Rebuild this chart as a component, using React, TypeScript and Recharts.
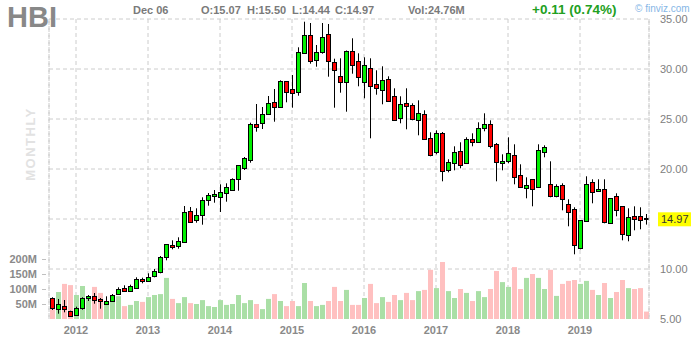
import React from "react";
import { ComposedChart, Bar, XAxis, YAxis, Cell, ReferenceLine, CartesianGrid } from "recharts";

// ---- data (monthly candles, Sep 2011 .. Dec 2019) ----
const startYear = 2011;
const startMonth = 9;

const opens = [
  7.07, 5.97, 6.27, 5.77, 5.43, 6.07, 7.07, 7.27, 7.0, 6.53,
  6.77, 7.47, 8.07, 7.8, 8.13, 9.0, 8.83, 9.27, 9.67, 11.17,
  12.37, 12.27, 12.67, 15.85, 14.87, 15.37, 16.87, 17.27, 17.23, 17.57,
  17.87, 18.97, 20.13, 20.93, 24.47, 24.57, 25.47, 26.67, 26.17, 28.77,
  27.97, 27.67, 31.63, 33.37, 30.87, 31.67, 33.47, 30.67, 29.27, 28.67,
  31.77, 30.77, 28.67, 30.07, 28.47, 27.87, 28.97, 27.27, 25.07, 26.57,
  26.37, 24.87, 25.47, 23.07, 21.67, 23.57, 19.87, 20.57, 21.77, 20.57,
  22.97, 22.67, 24.07, 24.47, 22.47, 20.57, 20.77, 21.37, 19.37, 18.07,
  18.97, 18.17, 21.67, 18.47, 17.27, 18.37, 16.47, 15.97, 12.07, 14.77,
  18.67, 17.77, 17.97, 14.57, 17.27, 16.27, 13.37, 15.27, 15.27, 15.07,
];
const highs = [
  7.17, 7.0, 6.9, 5.83, 6.23, 7.17, 7.4, 7.6, 7.1, 7.27,
  7.5, 8.17, 8.37, 8.43, 9.17, 9.13, 9.57, 10.0, 11.3, 12.5,
  12.87, 13.17, 16.3, 16.2, 16.07, 17.17, 17.6, 17.9, 18.47, 18.57,
  19.07, 20.4, 21.2, 24.63, 26.5, 26.2, 27.3, 28.0, 28.87, 28.8,
  29.4, 32.17, 34.73, 34.6, 32.4, 34.6, 34.5, 31.03, 31.07, 31.85,
  33.07, 31.57, 31.17, 31.07, 29.87, 30.27, 29.27, 28.07, 27.27, 28.07,
  26.57, 26.87, 25.87, 23.67, 23.87, 23.7, 20.97, 22.27, 22.67, 23.17,
  23.57, 24.67, 25.57, 24.87, 22.6, 21.47, 23.17, 22.47, 20.47, 19.17,
  19.0, 22.47, 22.37, 20.77, 18.47, 18.57, 16.97, 16.17, 14.9, 19.27,
  18.97, 18.97, 18.97, 17.1, 17.57, 16.3, 16.07, 16.27, 16.17, 15.5,
];
const lows = [
  5.9, 5.53, 5.67, 5.23, 5.33, 5.93, 6.8, 6.53, 6.03, 6.4,
  6.7, 7.4, 7.75, 7.7, 8.03, 8.57, 8.73, 9.17, 9.57, 10.87,
  11.97, 12.03, 12.6, 14.6, 14.63, 14.43, 16.33, 16.63, 15.7, 16.73,
  17.8, 17.83, 19.9, 20.63, 23.73, 24.0, 25.4, 24.73, 26.1, 26.67,
  26.13, 27.33, 31.5, 30.53, 30.23, 31.53, 29.23, 26.13, 27.63, 25.73,
  29.53, 28.27, 27.07, 23.07, 27.43, 26.47, 26.7, 24.8, 24.57, 23.97,
  24.87, 23.37, 22.9, 21.27, 21.47, 18.77, 19.67, 19.87, 20.07, 20.5,
  22.27, 22.6, 23.77, 22.07, 18.77, 19.87, 20.57, 18.47, 18.1, 17.07,
  16.27, 18.1, 21.17, 17.17, 17.17, 15.87, 14.27, 11.47, 11.97, 14.7,
  16.57, 17.7, 14.57, 14.5, 15.27, 12.87, 12.77, 13.87, 13.97, 14.44,
];
const closes = [
  6.07, 6.47, 5.97, 5.27, 6.1, 7.1, 7.3, 6.87, 6.8, 6.83,
  7.37, 7.97, 7.77, 8.3, 8.97, 8.77, 9.23, 9.77, 11.25, 12.47,
  12.25, 12.8, 15.75, 14.67, 15.43, 16.87, 17.37, 17.47, 17.67, 18.17,
  18.97, 20.37, 21.07, 24.5, 24.17, 25.53, 26.63, 26.17, 28.77, 27.67,
  27.57, 31.67, 33.37, 30.77, 31.67, 33.17, 30.77, 29.87, 28.67, 31.77,
  30.37, 29.17, 30.37, 28.27, 28.07, 28.87, 26.77, 24.87, 26.47, 26.27,
  24.97, 25.57, 22.97, 21.37, 23.57, 19.77, 20.67, 21.67, 20.37, 22.97,
  22.67, 24.07, 24.47, 22.27, 20.67, 20.77, 21.57, 19.17, 18.17, 18.37,
  17.97, 21.87, 22.17, 17.27, 18.27, 16.97, 15.67, 12.37, 14.87, 18.47,
  17.67, 17.97, 14.67, 17.07, 15.87, 13.47, 15.17, 14.97, 14.87, 14.97,
];
// volume in millions of shares
const volumes = [
  65, 90, 117, 113, 80, 110, 76, 107, 87, 60,
  75, 76, 43, 47, 60, 57, 73, 80, 83, 137,
  67, 53, 73, 53, 50, 63, 43, 40, 63, 47,
  50, 80, 53, 63, 50, 33, 67, 83, 60, 43,
  60, 43, 120, 60, 43, 47, 60, 107, 60, 97,
  47, 47, 70, 117, 53, 73, 57, 80, 63, 87,
  63, 93, 97, 164, 103, 190, 93, 70, 100, 87,
  60, 93, 73, 100, 160, 123, 107, 173, 100, 137,
  150, 137, 100, 164, 77, 117, 127, 130, 117, 127,
  97, 80, 120, 70, 90, 130, 103, 100, 103, 24.76,
];

const yearLabels = ["2012", "2013", "2014", "2015", "2016", "2017", "2018", "2019"];
const priceTicks = [5, 10, 15, 20, 25, 30, 35];
const priceGrid = [10, 15, 20, 25, 30, 35];
const volumeTicks = [50, 100, 150, 200];

const ticker = "HBI";
const quoteDate = "Dec 06";
const quoteOpen = "15.07";
const quoteHigh = "15.50";
const quoteLow = "14.44";
const quoteClose = "14.97";
const quoteVol = "24.76M";
const quoteChange = "+0.11 (0.74%)";

// ---- build table ----
const monthKey = (i: number) => {
  const t = startMonth - 1 + i;
  const y = startYear + Math.floor(t / 12);
  const m = (t % 12) + 1;
  return `${y}-${m < 10 ? "0" + m : m}`;
};
const data = opens.map((o, i) => ({
  m: monthKey(i),
  o,
  h: highs[i],
  l: lows[i],
  c: closes[i],
  range: [lows[i], highs[i]],
  vol: volumes[i],
  up: closes[i] >= o,
}));
const yearTicks = yearLabels.map((y) => `${y}-01`);
const lastClose = closes[closes.length - 1];

const FONT = "'Liberation Sans', Arial, Helvetica, sans-serif";
const UP = "#00f000";
const DOWN = "#ff0000";
const VOL_UP = "#aadfa6";
const VOL_DOWN = "#ffc0c0";
const GRID = "#cccccc";

const Candle = (props: any) => {
  const { x, y, width, height, payload } = props;
  if (payload == null || height == null) return null;
  const { o, h, l, c, up } = payload;
  const ppu = h - l > 0 ? height / (h - l) : 0;
  const top = y + (h - Math.max(o, c)) * ppu;
  let bot = y + (h - Math.min(o, c)) * ppu;
  if (bot - top < 1) bot = top + 1;
  const cx = Math.floor(x + width / 2) + 0.5;
  return (
    <g>
      <line x1={cx} x2={cx} y1={y} y2={y + height} stroke="#000" strokeWidth={1} />
      <rect
        x={cx - 2}
        y={Math.round(top) + 0.5}
        width={4}
        height={Math.max(1, Math.round(bot) - Math.round(top))}
        fill={up ? UP : DOWN}
        stroke="#000"
        strokeWidth={1}
      />
    </g>
  );
};

const PriceTick = (props: any) => {
  const { x, y, payload } = props;
  if (Math.abs(payload.value - lastClose) < 0.5) return null;
  return (
    <text x={x + 11} y={y + 4} fontSize={11} fontFamily={FONT} fill="#808080">
      {Number(payload.value).toFixed(2)}
    </text>
  );
};

const VolTick = (props: any) => {
  const { x, y, payload } = props;
  return (
    <g>
      <text x={x - 12} y={y + 4} textAnchor="end" fontSize={11} fontWeight="bold" fontFamily={FONT} fill="#8a8a8a">
        {payload.value}M
      </text>
      <line x1={x - 7} x2={x - 3} y1={y + 0.5} y2={y + 0.5} stroke="#c0c0c0" />
    </g>
  );
};

const YearTick = (props: any) => {
  const { x, y, payload } = props;
  return (
    <text x={x} y={y + 15} textAnchor="middle" fontSize={11} fontWeight="bold" fontFamily={FONT} fill="#8a8a8a">
      {String(payload.value).slice(0, 4)}
    </text>
  );
};

const LastLabel = (props: any) => {
  const vb = props.viewBox || {};
  const right = (vb.x || 0) + (vb.width || 0);
  const yy = vb.y || 0;
  return (
    <g>
      <rect x={right + 9} y={yy - 7} width={33} height={14} fill="#ffff00" />
      <text x={right + 12} y={yy + 4} fontSize={11} fontFamily={FONT} fill="#333">
        {lastClose.toFixed(2)}
      </text>
    </g>
  );
};

export default function App() {
  return (
    <div style={{ position: "absolute", left: 0, top: 0, width: 700, height: 340, background: "#fff" }}>
      <ComposedChart
        width={700}
        height={340}
        data={data}
        margin={{ top: 19, right: 0, bottom: 0, left: 0 }}
        barGap={0}
        barCategoryGap={0}
      >
        <CartesianGrid
          xAxisId="p"
          yAxisId="price"
          stroke={GRID}
          strokeDasharray="4 3"
          horizontalValues={priceGrid}
        />
        <XAxis
          xAxisId="p"
          dataKey="m"
          ticks={yearTicks}
          interval={0}
          height={21}
          axisLine={false}
          tickLine={false}
          tickSize={0}
          tickMargin={0}
          tick={<YearTick />}
        />
        <XAxis xAxisId="v" dataKey="m" hide />
        <YAxis
          yAxisId="vol"
          orientation="left"
          width={49}
          domain={[0, 1000]}
          ticks={volumeTicks}
          interval={0}
          allowDataOverflow
          axisLine={false}
          tickLine={false}
          tickSize={0}
          tickMargin={0}
          tick={<VolTick />}
        />
        <YAxis
          yAxisId="price"
          orientation="right"
          width={51}
          domain={[5, 35]}
          ticks={priceTicks}
          interval={0}
          allowDataOverflow
          axisLine={false}
          tickLine={false}
          tickSize={0}
          tickMargin={0}
          tick={<PriceTick />}
        />
        <ReferenceLine
          xAxisId="p"
          yAxisId="price"
          x={data[0].m}
          position="start"
          stroke={GRID}
          strokeDasharray="4 3"
        />
        <ReferenceLine
          xAxisId="p"
          yAxisId="price"
          x={data[data.length - 1].m}
          position="end"
          stroke={GRID}
          strokeDasharray="4 3"
        />
        <Bar xAxisId="v" yAxisId="vol" dataKey="vol" barSize={5} isAnimationActive={false}>
          {data.map((d, i) => (
            <Cell key={i} fill={d.up ? VOL_UP : VOL_DOWN} />
          ))}
        </Bar>
        <Bar
          xAxisId="p"
          yAxisId="price"
          dataKey="range"
          barSize={5}
          shape={<Candle />}
          isAnimationActive={false}
        />
        <ReferenceLine
          xAxisId="p"
          yAxisId="price"
          y={lastClose}
          stroke="none"
          label={<LastLabel />}
        />
      </ComposedChart>
      <svg
        width={700}
        height={340}
        style={{ position: "absolute", left: 0, top: 0, pointerEvents: "none" }}
      >
        <text x={7} y={27} fontSize={29} fontWeight="bold" fontFamily={FONT} fill="#888888">
          {ticker}
        </text>
        <text
          x={30}
          y={144}
          transform="rotate(-90 30 144)"
          textAnchor="middle"
          dominantBaseline="central"
          fontSize={13}
          fontWeight="bold"
          letterSpacing={1.5}
          fontFamily={FONT}
          fill="#e2e2e2"
        >
          MONTHLY
        </text>
        <g fontSize={11} fontWeight="bold" fontFamily={FONT} fill="#7a7a7a">
          <text x={133} y={14}>{quoteDate}</text>
          <text x={201} y={14}>O:{quoteOpen}</text>
          <text x={247} y={14}>H:{quoteHigh}</text>
          <text x={292} y={14}>L:{quoteLow}</text>
          <text x={335} y={14}>C:{quoteClose}</text>
          <text x={408} y={14}>Vol:{quoteVol}</text>
        </g>
        <text x={532} y={14} fontSize={13.5} fontWeight="bold" fontFamily={FONT} fill="#22a022">
          {quoteChange}
        </text>
        <text x={635} y={12} fontSize={10} fontFamily={FONT} fill="#86b6e6">
          © finviz.com
        </text>
      </svg>
    </div>
  );
}
